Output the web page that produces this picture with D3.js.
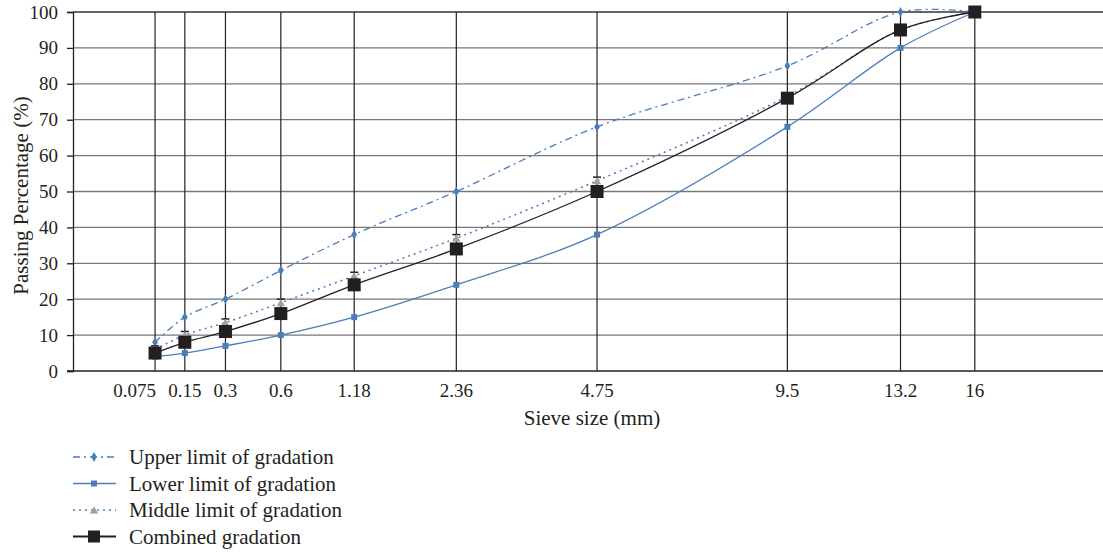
<!DOCTYPE html>
<html>
  <head>
    <meta charset="UTF-8" />
    <title>Gradation curves</title>
    <script src="https://d3js.org/d3.v7.min.js"></script>
    <style>
      body { margin: 0; background: #fff; }
      text { font-family: "Liberation Serif", "DejaVu Serif", serif; fill: #231f20; }
    </style>
  </head>
  <body>
    <div id="main"></div>
    <script type="text/javascript">
      const width = 1103;
      const height = 557;

      // sieve sizes (mm) and passing percentages
      const sieves = [0.075, 0.15, 0.3, 0.6, 1.18, 2.36, 4.75, 9.5, 13.2, 16];
      const sieveLabels = ['0.075', '0.15', '0.3', '0.6', '1.18', '2.36', '4.75', '9.5', '13.2', '16'];
      const upper = [8, 15, 20, 28, 38, 50, 68, 85, 100, 100];
      const lower = [4, 5, 7, 10, 15, 24, 38, 68, 90, 100];
      const middle = [6, 10, 13.5, 19, 26.5, 37, 53, 76.5, 95, 100];
      const middleErr = [1, 1, 1, 1, 1, 1, 1, 0, 0, 0];
      const combined = [5, 8, 11, 16, 24, 34, 50, 76, 95, 100];
      const yTicks = [0, 10, 20, 30, 40, 50, 60, 70, 80, 90, 100];

      const blue = '#4a7ebb';
      const black = '#231f20';

      const svg = d3.select('#main').append('svg')
        .attr('width', width).attr('height', height);

      const x = d3.scalePow().exponent(0.447).domain([0, 21.4]).range([73, 1100]);
      const y = d3.scaleLinear().domain([0, 100]).range([371, 12]);

      // horizontal grid
      svg.append('g').selectAll('line').data(yTicks.slice(1)).join('line')
        .attr('x1', 73).attr('x2', 1103)
        .attr('y1', d => y(d)).attr('y2', d => y(d))
        .attr('stroke', d => d === 100 ? '#333' : '#777').attr('stroke-width', 1.3);

      // vertical lines at sieves
      svg.append('g').selectAll('line').data(sieves).join('line')
        .attr('x1', d => x(d)).attr('x2', d => x(d))
        .attr('y1', y(100)).attr('y2', y(0))
        .attr('stroke', '#222').attr('stroke-width', 1.2);

      // y axis
      const yAxis = svg.append('g').attr('transform', 'translate(73,0)')
        .call(d3.axisLeft(y).tickValues(yTicks).tickSize(6).tickPadding(9));
      yAxis.select('.domain').attr('stroke', '#222').attr('stroke-width', 1.3);
      yAxis.selectAll('.tick line').attr('stroke', '#222').attr('stroke-width', 1.3);
      yAxis.selectAll('text').style('font-size', '19px').attr('fill', black);

      // x axis
      svg.append('line').attr('x1', 67).attr('x2', 1103)
        .attr('y1', y(0)).attr('y2', y(0))
        .attr('stroke', '#222').attr('stroke-width', 1.5);
      svg.append('g').selectAll('text').data(sieves).join('text')
        .attr('x', (d, i) => i === 0 ? x(d) + 1 : x(d))
        .attr('y', 397)
        .attr('text-anchor', (d, i) => i === 0 ? 'end' : 'middle')
        .style('font-size', '19px')
        .text((d, i) => sieveLabels[i]);

      svg.append('text').attr('x', 592).attr('y', 425).attr('text-anchor', 'middle')
        .style('font-size', '21px').text('Sieve size (mm)');
      svg.append('text')
        .attr('transform', `translate(28,${y(50) + 4}) rotate(-90)`)
        .attr('text-anchor', 'middle').style('font-size', '21px')
        .text('Passing Percentage (%)');

      const line = vals => d3.line()
        .x((d, i) => x(sieves[i]))
        .y(d => y(d))
        .curve(d3.curveCatmullRom.alpha(0.5))(vals);

      svg.append('path').attr('d', line(upper)).attr('fill', 'none')
        .attr('stroke', blue).attr('stroke-width', 1.3).attr('stroke-dasharray', '7,4,2,4');
      svg.append('path').attr('d', line(lower)).attr('fill', 'none')
        .attr('stroke', blue).attr('stroke-width', 1.3);
      svg.append('path').attr('d', line(middle)).attr('fill', 'none')
        .attr('stroke', blue).attr('stroke-width', 1.5).attr('stroke-dasharray', '2,4');
      svg.append('path').attr('d', line(combined)).attr('fill', 'none')
        .attr('stroke', black).attr('stroke-width', 1.3);

      const diamond = d3.symbol().type(d3.symbolDiamond).size(28);
      const triangle = d3.symbol().type(d3.symbolTriangle).size(30);

      // markers
      svg.append('g').selectAll('path').data(upper).join('path')
        .attr('d', diamond)
        .attr('transform', (d, i) => `translate(${x(sieves[i])},${y(d)})`)
        .attr('fill', blue);
      svg.append('g').selectAll('rect').data(lower).join('rect')
        .attr('x', (d, i) => x(sieves[i]) - 3).attr('y', d => y(d) - 3)
        .attr('width', 6).attr('height', 6).attr('fill', blue);

      // middle error bars + triangles
      const eb = svg.append('g');
      eb.selectAll('line.v').data(middle).join('line').attr('class', 'v')
        .attr('x1', (d, i) => x(sieves[i])).attr('x2', (d, i) => x(sieves[i]))
        .attr('y1', d => y(d)).attr('y2', (d, i) => y(d + middleErr[i]))
        .attr('stroke', '#999').attr('stroke-width', 1.2);
      eb.selectAll('line.c').data(middle.filter((d, i) => middleErr[i] > 0)).join('line').attr('class', 'c')
        .attr('x1', (d, i) => x(sieves[i]) - 4).attr('x2', (d, i) => x(sieves[i]) + 4)
        .attr('y1', (d, i) => y(d + middleErr[i])).attr('y2', (d, i) => y(d + middleErr[i]))
        .attr('stroke', black).attr('stroke-width', 1.5);
      svg.append('g').selectAll('path').data(middle).join('path')
        .attr('d', triangle)
        .attr('transform', (d, i) => `translate(${x(sieves[i])},${y(d) + 1})`)
        .attr('fill', '#a0a0a0');

      svg.append('g').selectAll('rect').data(combined).join('rect')
        .attr('x', (d, i) => x(sieves[i]) - 6.5).attr('y', d => y(d) - 6.5)
        .attr('width', 13).attr('height', 13).attr('fill', black);

      // legend
      const legendItems = [
        { name: 'Upper limit of gradation', color: blue, dash: '7,4,2,4', marker: 'diamond' },
        { name: 'Lower limit of gradation', color: blue, dash: null, marker: 'square' },
        { name: 'Middle limit of gradation', color: blue, dash: '2,4', marker: 'triangle' },
        { name: 'Combined gradation', color: black, dash: null, marker: 'big' }
      ];
      const lg = svg.append('g').selectAll('g').data(legendItems).join('g')
        .attr('transform', (d, i) => `translate(0,${457 + i * 26.5})`);
      lg.append('line').attr('x1', 73).attr('x2', 116).attr('y1', 0).attr('y2', 0)
        .attr('stroke', d => d.color).attr('stroke-width', d => d.marker === 'big' ? 1.8 : 1.3)
        .attr('stroke-dasharray', d => d.dash);
      lg.each(function (d) {
        const g = d3.select(this);
        if (d.marker === 'diamond') g.append('path').attr('d', diamond).attr('transform', 'translate(94,0)').attr('fill', blue);
        if (d.marker === 'square') g.append('rect').attr('x', 91).attr('y', -3).attr('width', 6).attr('height', 6).attr('fill', blue);
        if (d.marker === 'triangle') g.append('path').attr('d', triangle).attr('transform', 'translate(94,1)').attr('fill', '#a0a0a0');
        if (d.marker === 'big') g.append('rect').attr('x', 88).attr('y', -6).attr('width', 12).attr('height', 12).attr('fill', black);
      });
      lg.append('text').attr('x', 129).attr('y', 7).style('font-size', '21px')
        .text(d => d.name);
    </script>
  </body>
</html>
